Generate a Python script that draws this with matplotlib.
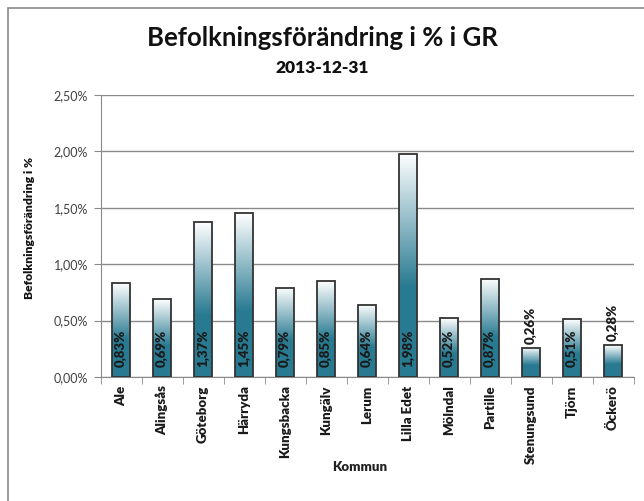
import numpy as np
import matplotlib
matplotlib.use("Agg")
import matplotlib.pyplot as plt
from matplotlib.colors import LinearSegmentedColormap
from matplotlib.patches import Rectangle

# data
kommuner = ["Ale", "Alingsås", "Göteborg", "Härryda", "Kungsbacka", "Kungälv",
            "Lerum", "Lilla Edet", "Mölndal", "Partille", "Stenungsund", "Tjörn", "Öckerö"]
forandring = [0.83, 0.69, 1.37, 1.45, 0.79, 0.85, 0.64, 1.98, 0.52, 0.87, 0.26, 0.51, 0.28]
yticks = [0.0, 0.5, 1.0, 1.5, 2.0, 2.5]

plt.rcParams['font.family'] = ['Lato', 'DejaVu Sans']

teal = "#287a91"
cmap = LinearSegmentedColormap.from_list("grad", [(0, teal), (0.4, teal), (1.0, "#ffffff")])

fig = plt.figure(figsize=(6.44, 5.01), dpi=100)
ax = fig.add_axes([100.5/644, 1-377/501, 533/644, 282/501])

# chart border
fig.patches.append(Rectangle((8/644, -0.1), 1.2, 1.1 - 8/501, transform=fig.transFigure,
                             fill=False, edgecolor="#8a8a8a", linewidth=1.2))

x = np.arange(len(kommuner))
w = 0.42
bars = ax.bar(x, forandring, width=w, facecolor="none", edgecolor="#333333", linewidth=1.3, zorder=3)

grad = np.linspace(0, 1, 256).reshape(-1, 1)
for b in bars:
    x0 = b.get_x()
    h = b.get_height()
    im = ax.imshow(grad, cmap=cmap, origin="lower", aspect="auto",
                   extent=[x0, x0 + w, 0, h], zorder=2)
    im.set_clip_path(b)

# value labels
for xi, v in zip(x, forandring):
    txt = f"{v:.2f}%".replace(".", ",")
    if v > 0.4:
        ax.annotate(txt, (xi, 0), xytext=(0, 7), textcoords="offset points",
                    rotation=90, ha="center", va="bottom", fontsize=9.5,
                    fontweight="heavy", color="#1a1a1a", zorder=4)
    else:
        ax.annotate(txt, (xi, v), xytext=(0, 3), textcoords="offset points",
                    rotation=90, ha="center", va="bottom", fontsize=9.5,
                    fontweight="heavy", color="#1a1a1a", zorder=4)

ax.set_xlim(-0.5, len(kommuner) - 0.5)
ax.set_ylim(0, 2.5)
ax.set_yticks(yticks)
ax.set_yticklabels([f"{t:.2f}%".replace(".", ",") for t in yticks], fontsize=9, color="#404040")
ax.set_xticks(x)
ax.set_xticklabels(kommuner, rotation=90, fontsize=9.5, fontweight="heavy", color="#1a1a1a")
ax.tick_params(axis="x", length=0, pad=6)
ax.set_xticks(np.arange(-0.5, len(kommuner)), minor=True)
ax.tick_params(axis="x", which="minor", length=5, color="#8a8a8a", direction="out")
ax.tick_params(axis="y", length=5, color="#8a8a8a", pad=4)

ax.grid(axis="y", color="#8a8a8a", linewidth=1.0, zorder=0)
ax.set_axisbelow(True)
for s in ["top", "right"]:
    ax.spines[s].set_visible(False)
for s in ["left", "bottom"]:
    ax.spines[s].set_color("#8a8a8a")

fig.text(0.5, 1 - 38/501, "Befolkningsförändring i % i GR", ha="center", va="center",
         fontsize=18.5, fontweight="bold", color="#111111")
fig.text(0.5, 1 - 68/501, "2013-12-31", ha="center", va="center",
         fontsize=12.5, fontweight="heavy", color="#111111")
fig.text(30/644, 1 - 228/501, "Befolkningsförändring i %", rotation=90, ha="center", va="center",
         fontsize=8.7, fontweight="heavy", color="#111111")
fig.text(360/644, 1 - 467/501, "Kommun", ha="center", va="center",
         fontsize=9.5, fontweight="heavy", color="#222222")

fig.savefig("out.png", dpi=100)
